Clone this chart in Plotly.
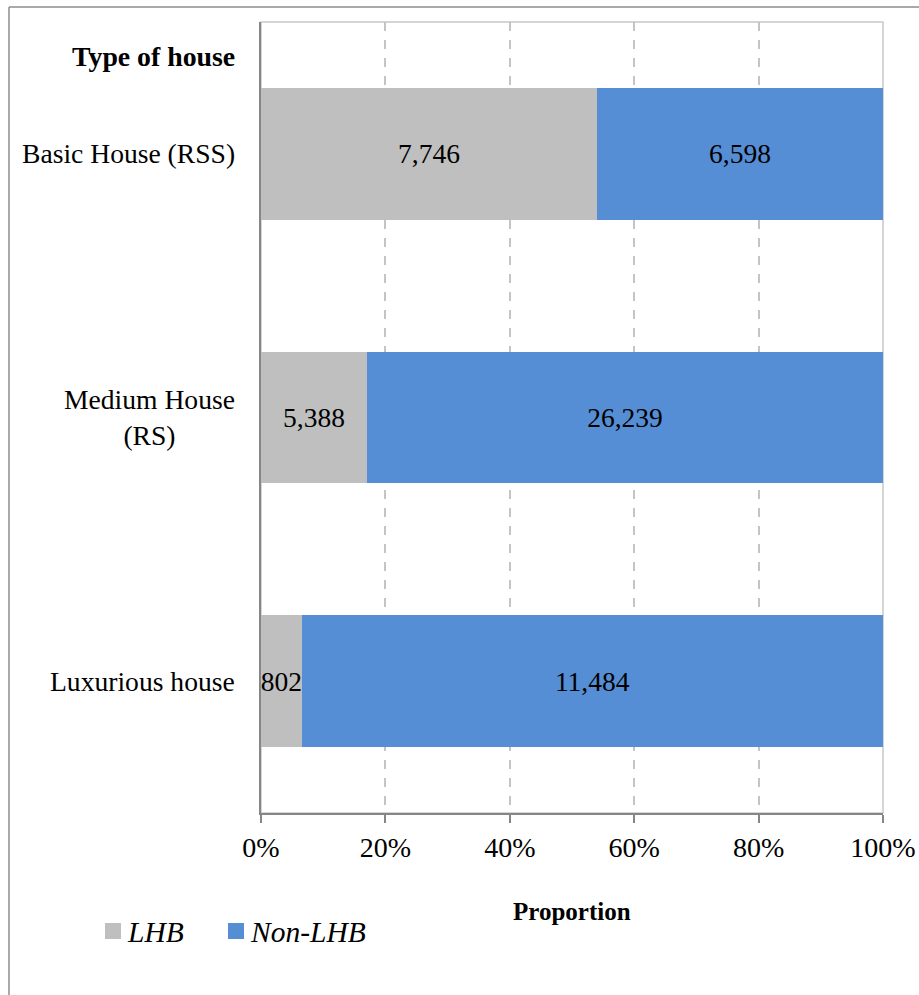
import plotly.graph_objects as go

# Housing categories (top to bottom) and counts per group
categories = ["Basic House (RSS)", "Medium House (RS)", "Luxurious house"]
category_labels = ["Basic House (RSS)", "Medium House<br>(RS)", "Luxurious house"]
lhb = [7746, 5388, 802]
non_lhb = [6598, 26239, 11484]
series_names = ["LHB", "Non-LHB"]
series_colors = ["#BFBFBF", "#558ED5"]
x_ticks = [0, 20, 40, 60, 80, 100]
x_tick_labels = ["0%", "20%", "40%", "60%", "80%", "100%"]

W, H = 919, 995
L, R, T, B = 261, 883, 22, 813
FONT = "Liberation Serif, Times New Roman, serif"


def px(x):
    """Pixel x -> paper x."""
    return (x - L) / (R - L)


def py(y):
    """Pixel y -> paper y."""
    return (B - y) / (B - T)


fig = go.Figure()
for name, vals, color in zip(series_names, [lhb, non_lhb], series_colors):
    fig.add_trace(go.Bar(
        y=categories, x=vals, name=name, orientation="h",
        marker=dict(color=color, line=dict(width=0)),
        width=0.5,
        text=[f"{v:,}" for v in vals],
        textposition="inside", insidetextanchor="middle", textangle=0,
        textfont=dict(family=FONT, size=27.5, color="black"),
        showlegend=False, hoverinfo="skip",
    ))

fig.update_layout(
    width=W, height=H, autosize=False,
    margin=dict(l=L, r=W - R, t=T, b=H - B, autoexpand=False),
    paper_bgcolor="white", plot_bgcolor="white",
    barmode="stack", barnorm="percent",
    uniformtext=dict(minsize=27.5, mode="show"),
    font=dict(family=FONT, size=27.5, color="black"),
)

fig.update_xaxes(
    range=[0, 100], tickvals=x_ticks, ticktext=x_tick_labels,
    showgrid=True, gridcolor="#C4C4C4", griddash="dash", gridwidth=1.5,
    zeroline=False, showline=True, linecolor="#868686", linewidth=2,
    ticks="outside", ticklen=8, tickwidth=1.5, tickcolor="#868686",
    tickfont=dict(family=FONT, size=28, color="black"),
    automargin=False,
)
fig.update_yaxes(
    categoryorder="array", categoryarray=categories[::-1],
    range=[-0.5, 2.5], showgrid=False, zeroline=False,
    showline=True, linecolor="#868686", linewidth=2,
    showticklabels=False, ticks="", automargin=False,
)

# plot-area border (top/right), axis lines drawn over it
fig.add_shape(type="rect", xref="paper", yref="paper", x0=0, x1=1, y0=0, y1=1,
              line=dict(color="#C8C8C8", width=1.5), layer="below")

# outer frame (left and top edges)
fig.add_shape(type="line", xref="paper", yref="paper",
              x0=px(9), x1=px(9), y0=py(7), y1=py(1000),
              line=dict(color="#8C8C8C", width=1.5))
fig.add_shape(type="line", xref="paper", yref="paper",
              x0=px(9), x1=px(925), y0=py(7), y1=py(7),
              line=dict(color="#8C8C8C", width=1.5))

# category labels, centred lines, right-aligned block
for cat, lab in zip(categories, category_labels):
    fig.add_annotation(x=px(237), xref="paper", y=cat, yref="y", text=lab,
                       showarrow=False, xanchor="right", yanchor="middle", align="center",
                       font=dict(family=FONT, size=27.6, color="black"))

fig.add_annotation(x=px(237), xref="paper", y=py(57), yref="paper",
                   text="<b>Type of house</b>", showarrow=False,
                   xanchor="right", yanchor="middle",
                   font=dict(family=FONT, size=27.8, color="black"))

fig.add_annotation(x=0.5, xref="paper", y=py(912), yref="paper",
                   text="<b>Proportion</b>", showarrow=False,
                   xanchor="center", yanchor="middle",
                   font=dict(family=FONT, size=25, color="black"))

# legend
legend_x = [105, 228]
for x0, name, color in zip(legend_x, series_names, series_colors):
    fig.add_shape(type="rect", xref="paper", yref="paper",
                  x0=px(x0), x1=px(x0 + 16), y0=py(939), y1=py(923),
                  fillcolor=color, line=dict(width=0))
    fig.add_annotation(x=px(x0 + 20), xref="paper", y=py(932), yref="paper",
                       text=f"<i>{name}</i>", showarrow=False,
                       xanchor="left", yanchor="middle",
                       font=dict(family=FONT, size=29.5, color="black"))

fig.write_html("out.html")
